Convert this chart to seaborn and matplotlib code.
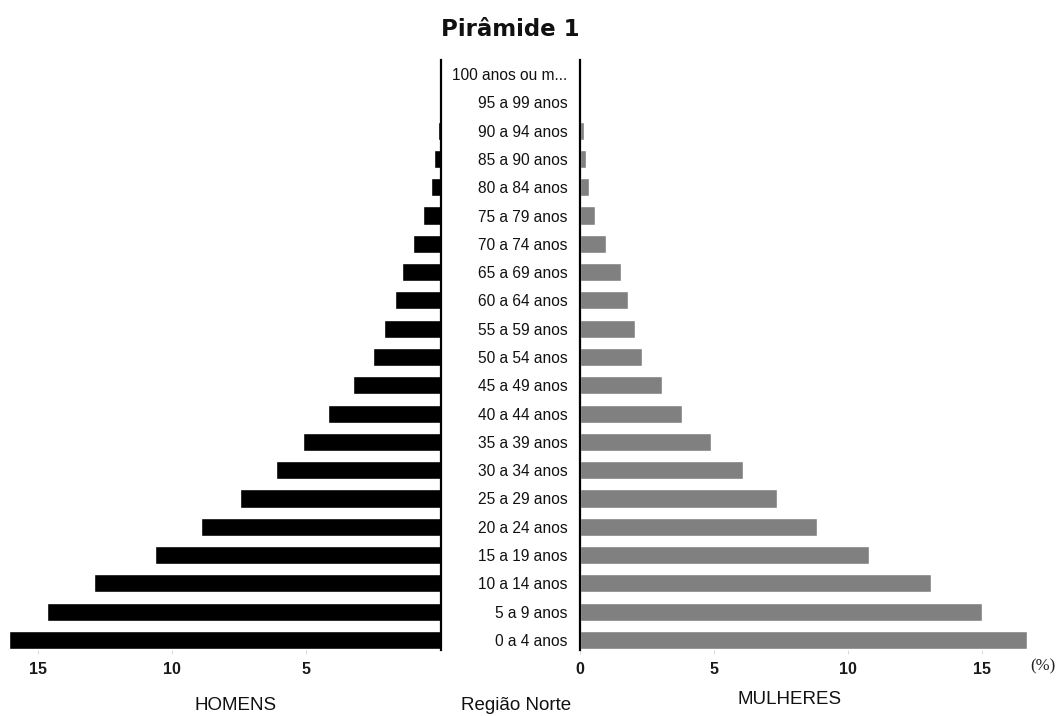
import matplotlib
matplotlib.use("Agg")
import matplotlib.pyplot as plt
import seaborn as sns
import pandas as pd

# ---- data (top to bottom) ----
faixas = ["100 anos ou m...", "95 a 99 anos", "90 a 94 anos", "85 a 90 anos",
          "80 a 84 anos", "75 a 79 anos", "70 a 74 anos", "65 a 69 anos",
          "60 a 64 anos", "55 a 59 anos", "50 a 54 anos", "45 a 49 anos",
          "40 a 44 anos", "35 a 39 anos", "30 a 34 anos", "25 a 29 anos",
          "20 a 24 anos", "15 a 19 anos", "10 a 14 anos", "5 a 9 anos",
          "0 a 4 anos"]
homens = [0.0, 0.0, 0.10, 0.26, 0.37, 0.67, 1.04, 1.42, 1.68, 2.09, 2.53,
          3.27, 4.18, 5.11, 6.12, 7.46, 8.92, 10.63, 12.91, 14.66, 16.08]
mulheres = [0.0, 0.0, 0.15, 0.26, 0.37, 0.56, 0.97, 1.55, 1.82, 2.07, 2.33,
            3.06, 3.82, 4.90, 6.09, 7.34, 8.85, 10.77, 13.08, 14.99, 16.65]
ticks_h = [15, 10, 5]
ticks_m = [0, 5, 10, 15]

df = pd.DataFrame({"faixa": faixas, "homens": homens, "mulheres": mulheres})

sns.set_theme(style="white")
plt.rcParams["font.family"] = ["Liberation Sans", "DejaVu Sans"]

W, H = 1059, 716
fig = plt.figure(figsize=(W / 100, H / 100), dpi=100)

def fx(px):
    return px / W

def fy(py):
    return 1 - py / H

top_px, bot_px = 60, 650
ax_h = fig.add_axes([fx(5), fy(bot_px), fx(440.5 - 5), (bot_px - top_px) / H])
ax_m = fig.add_axes([fx(579.5), fy(bot_px), fx(1035 - 579.5), (bot_px - top_px) / H])

sns.barplot(data=df, x="homens", y="faixa", order=faixas, orient="h",
            color="black", saturation=1, width=0.64, ax=ax_h)
sns.barplot(data=df, x="mulheres", y="faixa", order=faixas, orient="h",
            color="#808080", saturation=1, width=0.64, ax=ax_m)

unit = 26.85
ax_h.set_xlim((440.5 - 5) / unit, 0)
ax_m.set_xlim(0, (1035 - 579.5) / unit)
n = len(faixas)
rows_px = (640 - 74) / (n - 1)
ylim = (n - 1 + (bot_px - 640) / rows_px, -(74 - top_px) / rows_px)
ax_h.set_ylim(*ylim)
ax_m.set_ylim(*ylim)

for ax in (ax_h, ax_m):
    ax.set_xlabel("")
    ax.set_ylabel("")
    for s in ax.spines.values():
        s.set_visible(False)
    ax.set_facecolor("none")

ax_h.spines["right"].set_visible(True)
ax_h.spines["right"].set_color("black")
ax_h.spines["right"].set_linewidth(1.6)
ax_m.spines["left"].set_visible(True)
ax_m.spines["left"].set_color("black")
ax_m.spines["left"].set_linewidth(1.6)

ax_h.set_yticks([])
ax_m.set_yticks(range(n))
ax_m.set_yticklabels(faixas, fontsize=11.2, color="#111111")
ax_m.tick_params(axis="y", length=0, pad=8.6)

ax_h.set_xticks(ticks_h)
ax_h.set_xticklabels([str(t) for t in ticks_h], fontsize=11.5, fontweight="bold", color="#1a1a1a")
ax_m.set_xticks(ticks_m)
ax_m.set_xticklabels([str(t) for t in ticks_m], fontsize=11.5, fontweight="bold", color="#1a1a1a")
for ax in (ax_h, ax_m):
    ax.tick_params(axis="x", length=3, width=0.8, color="#d8dde6", pad=6, bottom=True)

fig.text(fx(510), fy(29), "Pirâmide 1", ha="center", va="center",
         fontsize=16.5, fontweight="bold", family=["DejaVu Sans"], color="#111111")
fig.text(fx(236), fy(705), "HOMENS", ha="center", va="center", fontsize=13.5, color="#111111")
fig.text(fx(516), fy(705), "Região Norte", ha="center", va="center", fontsize=13.5, color="#111111")
fig.text(fx(790), fy(699), "MULHERES", ha="center", va="center", fontsize=13.5, color="#111111")
fig.text(fx(1043), fy(666), "(%)", ha="center", va="center", fontsize=12,
         family=["Liberation Serif", "DejaVu Serif"], color="#222222")

fig.savefig("out.png", dpi=100, facecolor="white")
